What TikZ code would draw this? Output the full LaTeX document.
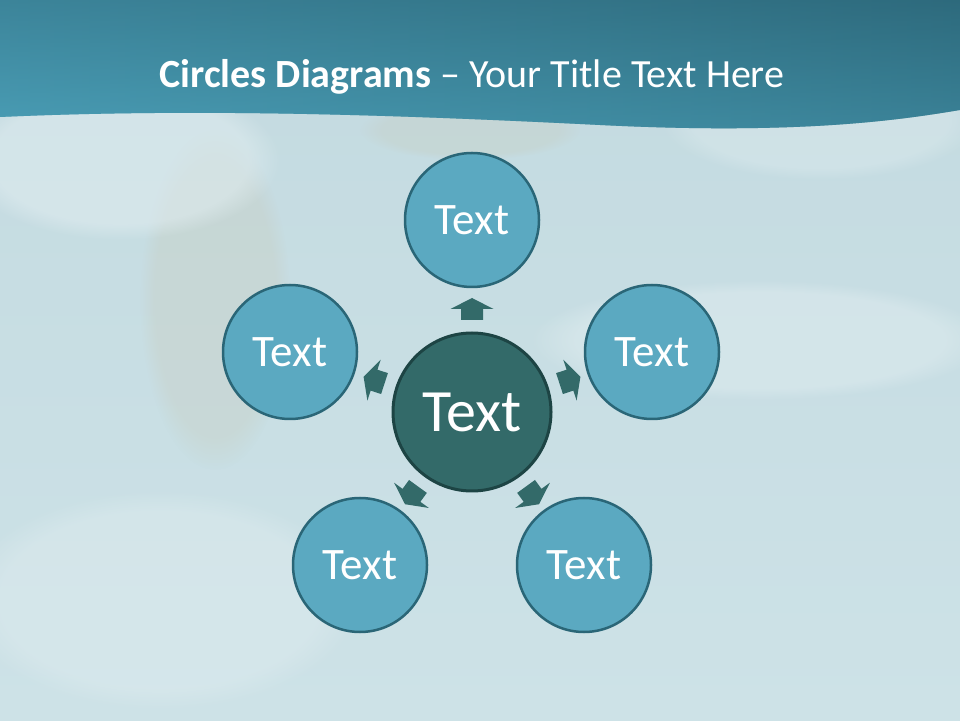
\documentclass[tikz,border=0pt]{standalone}
\usepackage{fontspec}
\setmainfont{Carlito}
\usetikzlibrary{fadings}
\begin{document}
\begin{tikzpicture}[x=1pt,y=1pt,
  outer/.style={circle,draw=circedge,line width=2.5pt,fill=circfill,minimum size=134pt,inner sep=0pt,text=white,font=\fontsize{45}{45}\selectfont},
  hub/.style={circle,draw=hubedge,line width=3pt,fill=hubfill,minimum size=158pt,inner sep=0pt,text=white,font=\fontsize{60}{60}\selectfont},
  arrowshape/.style={fill=hubfill},
  blob/.style={path fading=circle with fuzzy edge 20 percent}]
\definecolor{bgtop}{HTML}{C3DAE0}
\definecolor{bgbot}{HTML}{CDE2E7}
\definecolor{bglight}{HTML}{E2EEF1}
\definecolor{bgtan}{HTML}{C8BC9C}
\definecolor{bandL}{HTML}{4A9EB6}
\definecolor{bandR}{HTML}{2F6E81}
\definecolor{bandTop}{HTML}{2C6678}
\definecolor{circfill}{HTML}{5BA9C1}
\definecolor{circedge}{HTML}{2A6677}
\definecolor{hubfill}{HTML}{336A69}
\definecolor{hubedge}{HTML}{1D4444}
\useasboundingbox (0,0) rectangle (960,720);
% background
\shade[top color=bgtop,bottom color=bgbot] (0,0) rectangle (960,720);
\fill[bgtan,opacity=0.18,blob] (215,420) ellipse (75 and 170);
\fill[bgtan,opacity=0.15,blob] (470,590) ellipse (110 and 30);
\fill[bglight,opacity=0.5,blob] (120,560) ellipse (160 and 80);
\fill[bglight,opacity=0.45,blob] (760,380) ellipse (230 and 60);
\fill[bglight,opacity=0.4,blob] (160,120) ellipse (200 and 110);
\fill[bglight,opacity=0.35,blob] (820,600) ellipse (160 and 60);
% header band
\shade[left color=bandL,right color=bandR]
  (0,720) -- (0,603) .. controls (200,612) and (400,605) .. (600,595) .. controls (800,585) and (900,600) .. (960,610) -- (960,720) -- cycle;
\shade[top color=bandTop,bottom color=bandL,opacity=0.45]
  (0,720) -- (0,603) .. controls (200,612) and (400,605) .. (600,595) .. controls (800,585) and (900,600) .. (960,610) -- (960,720) -- cycle;
\node[anchor=base,text=white,font=\fontsize{40}{40}\selectfont] (title) at (472,632) {\textbf{Circles Diagrams} – Your Title Text Here};
% circles
\node[hub] (c) at (472,308) {Text};
\node[outer] (t) at (472,500) {Text};
\node[outer] (l) at (290,368) {Text};
\node[outer] (r) at (652,368) {Text};
\node[outer] (bl) at (360,155) {Text};
\node[outer] (br) at (584,155) {Text};
% arrows
\foreach \a in {90,162,18,234,306}{
  \begin{scope}[shift={(c.center)},rotate=\a]
    \fill[arrowshape] (92,-11) -- (103,-11) -- (103,-21.5) -- (114,0) -- (103,21.5) -- (103,11) -- (92,11) -- cycle;
  \end{scope}
}
\end{tikzpicture}
\end{document}
